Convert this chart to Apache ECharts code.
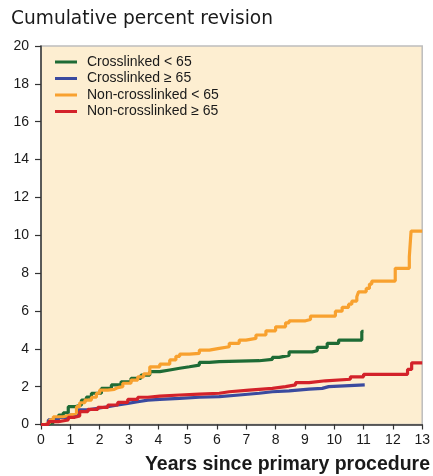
<!DOCTYPE html>
<html><head><meta charset="utf-8">
<script src="https://cdn.jsdelivr.net/npm/echarts@6/dist/echarts.min.js"></script>
<style>html,body{margin:0;padding:0;background:#fff}#c{width:433px;height:476px}</style>
</head><body><div id="c"></div>
<script>
const seriesNames = ['Crosslinked < 65', 'Crosslinked \u2265 65', 'Non-crosslinked < 65', 'Non-crosslinked \u2265 65'];
const xTicks = [0,1,2,3,4,5,6,7,8,9,10,11,12,13];
const yTicks = [0,2,4,6,8,10,12,14,16,18,20];

const crossUnder65 = [[0,0],[0.2,0.1],[0.42,0.3],[0.6,0.5],[0.76,0.62],[0.93,0.94],[1.15,1.03],[1.38,1.29],[1.55,1.45],[1.72,1.65],[2.06,1.91],[2.4,2.09],[2.73,2.26],[3.07,2.44],[3.41,2.61],[3.71,2.79],[4.05,2.88],[4.39,2.97],[4.73,3.05],[5.06,3.14],[5.4,3.28],[5.74,3.32],[6.08,3.35],[6.76,3.37],[7.44,3.44],[7.89,3.55],[8.12,3.65],[8.46,3.84],[9.25,3.9],[9.42,4.08],[9.76,4.29],[10.15,4.46],[10.94,4.92],[11.0,4.95]];
const crossOver65 = [[0,0],[0.25,0.24],[0.59,0.38],[0.93,0.5],[1.26,0.77],[1.6,0.86],[1.94,0.94],[2.28,1.03],[2.62,1.12],[2.96,1.2],[3.3,1.29],[3.64,1.33],[4.05,1.38],[4.73,1.44],[5.4,1.47],[6.08,1.56],[6.76,1.65],[7.44,1.73],[7.89,1.78],[8.46,1.87],[9.14,1.91],[9.59,2.0],[9.81,2.09],[11.04,2.09]];
const nonUnder65 = [[0,0],[0.15,0.1],[0.3,0.25],[0.42,0.41],[0.76,0.5],[1.0,0.59],[1.21,0.94],[1.32,1.15],[1.5,1.29],[1.72,1.44],[1.89,1.65],[2.0,1.82],[2.28,1.86],[2.5,1.95],[2.62,2.0],[2.79,2.18],[3.07,2.35],[3.3,2.52],[3.5,2.67],[3.71,3.05],[4.05,3.19],[4.39,3.41],[4.6,3.6],[4.73,3.72],[5.06,3.76],[5.4,3.93],[5.74,4.02],[6.08,4.11],[6.42,4.29],[6.76,4.46],[6.99,4.55],[7.33,4.73],[7.67,4.95],[8.0,5.16],[8.34,5.37],[8.46,5.48],[9.02,5.55],[9.19,5.73],[10.04,5.99],[10.27,6.19],[10.49,6.36],[10.6,6.52],[10.77,6.75],[10.83,7.01],[11.09,7.19],[11.2,7.42],[11.28,7.58],[12.08,8.25],[12.56,8.86],[12.62,10.22],[13.0,10.22]];
const nonOver65 = [[0,0],[0.25,0.15],[0.59,0.24],[0.93,0.38],[1.15,0.45],[1.32,0.68],[1.6,0.8],[1.94,0.91],[2.28,1.03],[2.62,1.17],[2.96,1.33],[3.3,1.44],[3.64,1.5],[4.05,1.56],[4.73,1.61],[5.4,1.65],[6.08,1.73],[6.42,1.82],[7.1,1.91],[7.89,2.0],[8.34,2.09],[8.68,2.21],[9.14,2.31],[9.7,2.39],[10.55,2.52],[11.0,2.65],[12.5,2.91],[12.64,3.26],[13.0,3.26]];

const colors = ['#1e6b35', '#3a4a9f', '#f8a12f', '#d3222a'];
const allData = [crossUnder65, crossOver65, nonUnder65, nonOver65];

const chart = echarts.init(document.getElementById('c'));
const font = 'Liberation Sans, Arial, sans-serif';
chart.setOption({
  animation: false,
  backgroundColor: '#ffffff',
  grid: {left: 41, right: 9, top: 46, bottom: 51.5, show: true, backgroundColor: '#fdeed1', borderColor: '#bdbdbd', borderWidth: 1.5},
  xAxis: {type: 'value', min: 0, max: 13, interval: 1,
    axisLine: {lineStyle: {color: '#333', width: 1.5}},
    axisTick: {length: 5, lineStyle: {color: '#333', width: 1.2}},
    splitLine: {show: false},
    axisLabel: {color: '#1a1a1a', fontSize: 14, fontFamily: font, margin: 9, formatter: v => xTicks.includes(v) ? String(v) : ''}},
  yAxis: {type: 'value', min: 0, max: 20, interval: 2,
    axisLine: {show: true, lineStyle: {color: '#333', width: 1.5}},
    axisTick: {show: true, length: 6, lineStyle: {color: '#333', width: 1.2}},
    splitLine: {show: false},
    axisLabel: {color: '#1a1a1a', fontSize: 14, fontFamily: font, margin: 12, formatter: v => yTicks.includes(v) ? String(v) : ''}},
  legend: {orient: 'vertical', left: 50, top: 50, itemWidth: 22, itemHeight: 3, itemGap: 2.5, icon: 'rect',
    textStyle: {color: '#1a1a1a', fontSize: 14, fontFamily: font, lineHeight: 14, padding: [0,0,0,5]},
    data: seriesNames},
  graphic: [
    {type: 'text', left: 11, top: 10, style: {text: 'Cumulative percent revision', font: '18.6px "DejaVu Sans"', fill: '#1a1a1a'}},
    {type: 'text', right: 3, top: 455, style: {text: 'Years since primary procedure', font: 'bold 19.5px "Liberation Sans"', fill: '#1a1a1a'}}
  ],
  series: allData.map((d, i) => ({
    name: seriesNames[i], type: 'line', step: 'end', data: d, showSymbol: false, symbol: 'none',
    lineStyle: {color: colors[i], width: 3.2}, itemStyle: {color: colors[i]}
  }))
});
</script></body></html>
